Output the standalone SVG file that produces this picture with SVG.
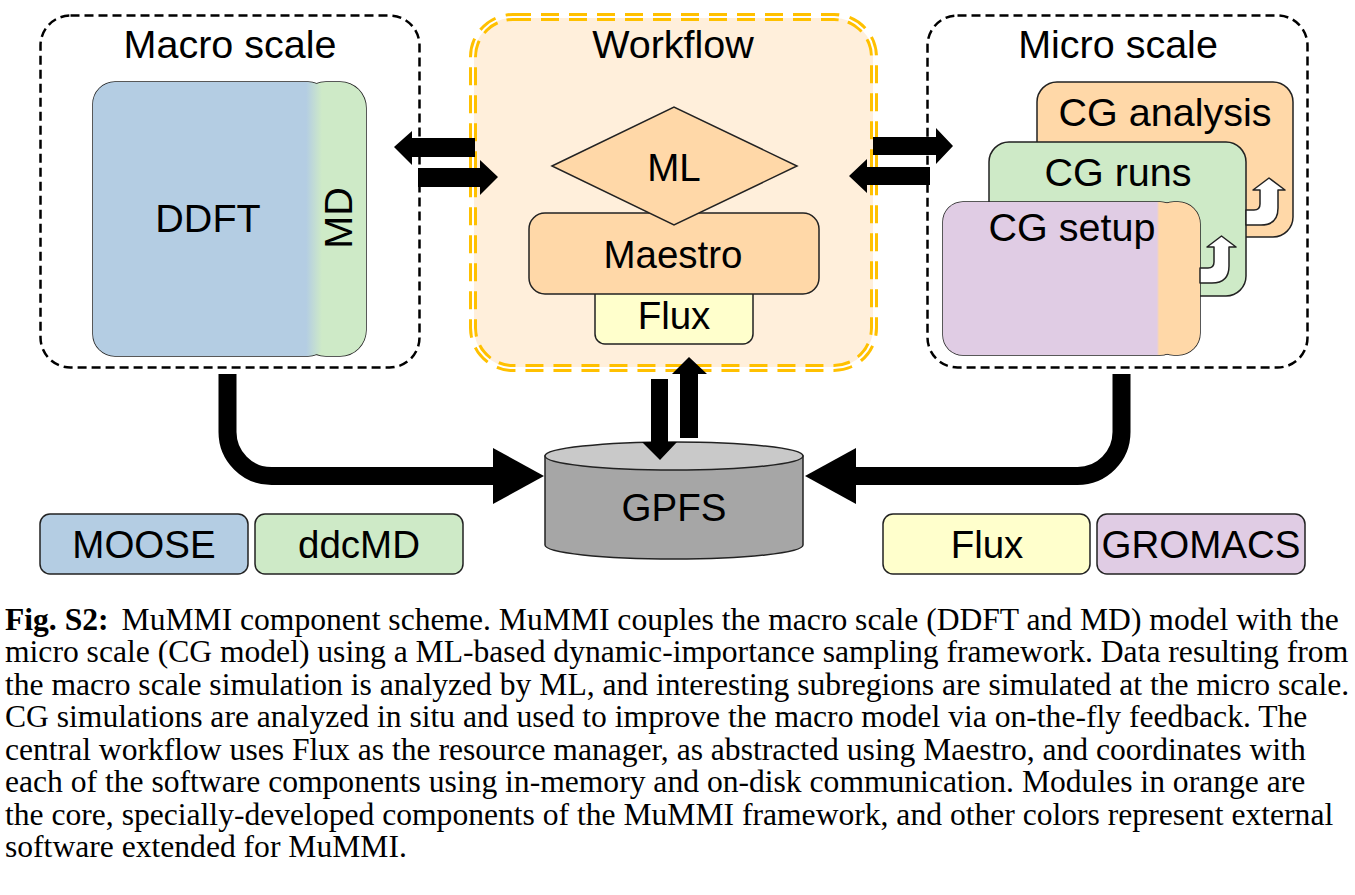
<svg xmlns="http://www.w3.org/2000/svg" width="1355" height="895" viewBox="0 0 1355 895">
<style>
.t{font-family:"Liberation Sans",Arial,sans-serif;font-size:38.5px;fill:#000;text-anchor:middle}
.ti{font-size:39.5px}
.cap{font-family:"Liberation Serif","Times New Roman",serif;font-size:31.6px;fill:#000}
.dash{fill:none;stroke:#000;stroke-width:2.5;stroke-dasharray:9 5}
.nd{stroke:#222;stroke-width:1.5}
.ns{stroke:none}
.blue{fill:#B4CDE3}.green{fill:#CEEAC7}.peach{fill:#FFD8A8}.yellow{fill:#FFFFCC}.purple{fill:#E0CCE4}
.ar{fill:#000;stroke:none}
.big{fill:none;stroke:#000;stroke-width:18}
.ua{fill:#fff;stroke:#222;stroke-width:1.5;stroke-linejoin:round}
</style>
<defs>
<linearGradient id="gBG" gradientUnits="userSpaceOnUse" x1="306" y1="0" x2="322" y2="0">
<stop offset="0" stop-color="#B4CDE3"/><stop offset="1" stop-color="#CEEAC7"/>
</linearGradient>
<linearGradient id="gPO" gradientUnits="userSpaceOnUse" x1="1157" y1="0" x2="1159" y2="0">
<stop offset="0" stop-color="#E0CCE4"/><stop offset="1" stop-color="#FFD8A8"/>
</linearGradient>
</defs>

<g id="macro-scale">
<rect class="dash" x="40.5" y="15.5" width="379" height="352" rx="30"/>
<text class="t ti" x="230" y="58">Macro scale</text>
</g>

<g id="workflow">
<rect x="473" y="17" width="401" height="351" rx="40" fill="#FFEFDB"/>
<rect x="473" y="17" width="401" height="351" rx="40" fill="none" stroke="#FFC000" stroke-width="8" stroke-dasharray="18 10"/>
<rect x="473" y="17" width="401" height="351" rx="40" fill="none" stroke="#fff" stroke-width="2"/>
<text class="t ti" x="673" y="58">Workflow</text>
</g>

<g id="micro-scale">
<rect class="dash" x="927.5" y="15.5" width="380" height="352" rx="30"/>
<text class="t ti" x="1118" y="58">Micro scale</text>
</g>

<g id="ddft-md">
<rect class="green nd" x="300" y="82" width="66" height="274" rx="26"/>
<rect class="nd" fill="url(#gBG)" x="93" y="82" width="237" height="274" rx="22"/>
<rect class="green ns" x="300" y="82" width="66" height="274" rx="26"/>
<rect class="ns" fill="url(#gBG)" x="93" y="82" width="237" height="274" rx="22"/>
<text class="t ti" x="208" y="232">DDFT</text>
<text class="t ti" x="0" y="0" transform="translate(352 218) rotate(-90)">MD</text>
</g>

<g id="flux">
<rect class="yellow nd" x="595" y="280" width="158" height="64" rx="10"/>
<text class="t" x="674" y="329">Flux</text>
</g>

<g id="maestro">
<rect class="peach nd" x="529" y="213" width="290" height="81" rx="16"/>
<text class="t" x="673" y="268">Maestro</text>
</g>

<g id="ml">
<polygon class="peach nd" points="552,166 674,107 797,166 674,225"/>
<text class="t" x="674" y="181">ML</text>
</g>

<g id="cg-analysis">
<rect class="peach nd" x="1037" y="82" width="256" height="155" rx="20"/>
<text class="t ti" x="1165" y="126">CG analysis</text>
</g>

<g id="cg-runs">
<rect class="green nd" x="989" y="142" width="257" height="154" rx="20"/>
<text class="t ti" x="1118" y="186">CG runs</text>
<path class="ua" d="M1246 210 L1254 210 Q1260 210 1260 204 L1260 190 L1253 190 L1269 178 L1285 190 L1278 190 L1278 208 Q1278 225 1261 225 L1246 225 Z"/>
</g>

<g id="cg-setup">
<rect class="peach nd" x="1152" y="202" width="48" height="153" rx="22"/>
<rect class="nd" fill="url(#gPO)" x="943" y="202" width="237" height="153" rx="20"/>
<rect class="peach ns" x="1152" y="202" width="48" height="153" rx="22"/>
<rect class="ns" fill="url(#gPO)" x="943" y="202" width="237" height="153" rx="20"/>
<text class="t ti" x="1072" y="241">CG setup</text>
<path class="ua" d="M1200 268 L1208 268 Q1214 268 1214 262 L1214 247 L1207 247 L1221.5 236 L1236 247 L1229 247 L1229 266 Q1229 283 1212 283 L1200 283 Z"/>
</g>

<g id="gpfs">
<path d="M545 456 L545 545 A129 14 0 0 0 803 545 L803 456 Z" fill="#A6A6A6" stroke="#222" stroke-width="1.5"/>
<ellipse cx="674" cy="456" rx="129" ry="14" fill="#C9C9C9" stroke="#222" stroke-width="1.5"/>
<text class="t" x="674" y="521">GPFS</text>
</g>

<g id="connectors">
<polygon class="ar" points="394,147 412,131 412,138 475,138 475,157 412,157 412,165"/>
<polygon class="ar" points="498,177 480,160 480,168 418,168 418,187 480,187 480,195"/>
<polygon class="ar" points="953,146 936,128 936,137 873,137 873,155 936,155 936,164"/>
<polygon class="ar" points="849,176 867,159 867,167 930,167 930,185 867,185 867,193"/>
<polygon class="ar" points="651,379 668,379 668,442 677,442 660,460 642,442 651,442"/>
<polygon class="ar" points="680,438 698,438 698,374 707,374 689,357 672,374 680,374" stroke="#fff" stroke-width="1"/>
<path class="big" d="M227.5 374 L227.5 432 A44 44 0 0 0 271.5 476 L494 476"/>
<polygon class="ar" points="493,448 544,476 493,504"/>
<path class="big" d="M1121.5 374 L1121.5 432 A44 44 0 0 1 1077.5 476 L855 476"/>
<polygon class="ar" points="856,448 805,476 856,504"/>
</g>

<g id="legend-moose">
<rect class="blue nd" x="40" y="514" width="208" height="60" rx="10"/>
<text class="t" x="144" y="558">MOOSE</text>
</g>
<g id="legend-ddcmd">
<rect class="green nd" x="255" y="514" width="208" height="60" rx="10"/>
<text class="t" x="359" y="558">ddcMD</text>
</g>
<g id="legend-flux">
<rect class="yellow nd" x="883" y="514" width="207" height="60" rx="10"/>
<text class="t" x="987" y="558">Flux</text>
</g>
<g id="legend-gromacs">
<rect class="purple nd" x="1097" y="514" width="208" height="60" rx="10"/>
<text class="t" x="1201" y="558">GROMACS</text>
</g>

<g id="caption">
<text class="cap" x="5" y="630"><tspan font-weight="bold">Fig. S2:</tspan><tspan dx="13">MuMMI component scheme. MuMMI couples the macro scale (DDFT and MD) model with the</tspan></text>
<text class="cap" x="5" y="662">micro scale (CG model) using a ML-based dynamic-importance sampling framework. Data resulting from</text>
<text class="cap" x="5" y="695">the macro scale simulation is analyzed by ML, and interesting subregions are simulated at the micro scale.</text>
<text class="cap" x="5" y="727">CG simulations are analyzed in situ and used to improve the macro model via on-the-fly feedback. The</text>
<text class="cap" x="5" y="760">central workflow uses Flux as the resource manager, as abstracted using Maestro, and coordinates with</text>
<text class="cap" x="5" y="792">each of the software components using in-memory and on-disk communication. Modules in orange are</text>
<text class="cap" x="5" y="825">the core, specially-developed components of the MuMMI framework, and other colors represent external</text>
<text class="cap" x="5" y="857">software extended for MuMMI.</text>
</g>
</svg>
